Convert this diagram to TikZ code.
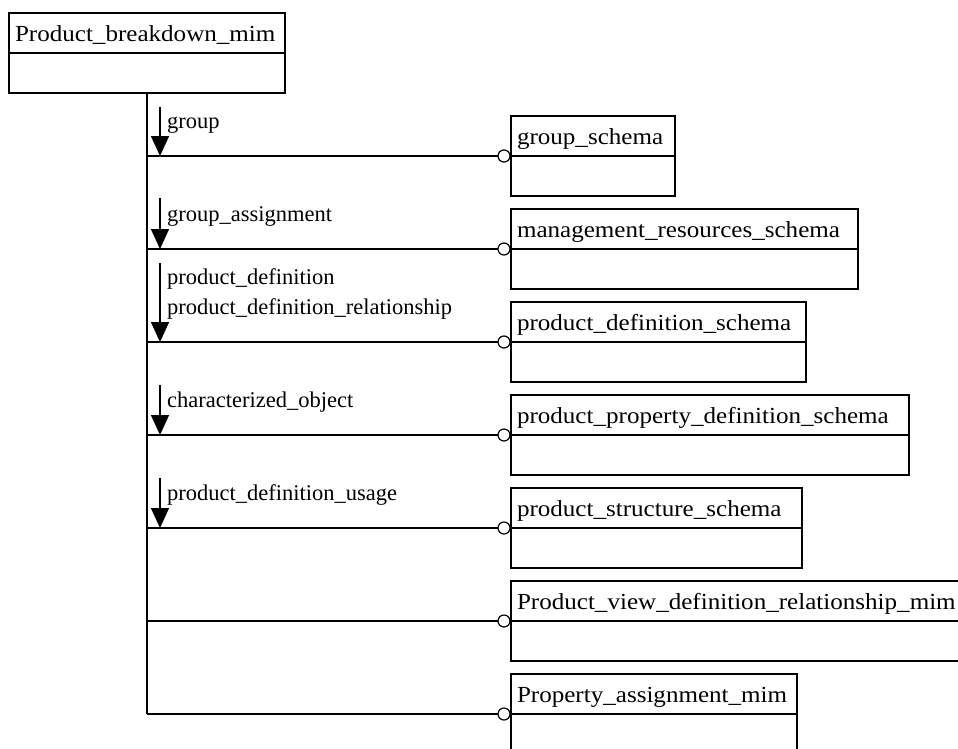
\documentclass[tikz,border=0pt]{standalone}
\usepackage{fontspec}
\setmainfont{Liberation Serif}
\newfontfamily\boxfont[FakeStretch=1.09]{Liberation Serif}
\usetikzlibrary{arrows.meta}
\begin{document}
\begin{tikzpicture}[x=1pt,y=-1pt,
  hdr/.style={draw, line width=1.5pt, anchor=north west, outer sep=0pt,
    inner xsep=6pt, inner ysep=0pt, minimum height=40pt,
    text height=20pt, text depth=4pt, align=left,
    font=\boxfont\fontsize{23}{28}\selectfont},
  bdy/.style={draw, line width=1.5pt, anchor=north west, outer sep=0pt,
    inner sep=0pt, minimum height=40pt},
  circ/.style={draw, circle, line width=1.2pt, fill=white, inner sep=0pt,
    minimum size=12pt, outer sep=0pt},
  lnk/.style={line width=1.5pt},
  arr/.style={line width=1.5pt, -{Triangle[width=18pt,length=20pt]}},
  lbl/.style={anchor=base west, inner sep=0pt, align=left,
    font=\fontsize{22.5}{30}\selectfont}
]
\clip (0,0) rectangle (958,748);
\fill[white] (0,0) rectangle (958,748);

% top box
\node[hdr, text width=264pt] (pb) at (9,13) {Product\_breakdown\_mim};
\node[bdy, minimum width=276pt] (pbb) at (pb.south west) {};

% schema boxes
\node[hdr, text width=152pt] (gs) at (511,116) {group\_schema};
\node[bdy, minimum width=164pt] (gsb) at (gs.south west) {};
\node[hdr, text width=335pt] (mr) at (511,209) {management\_resources\_schema};
\node[bdy, minimum width=347pt] (mrb) at (mr.south west) {};
\node[hdr, text width=283pt] (pd) at (511,302) {product\_definition\_schema};
\node[bdy, minimum width=295pt] (pdb) at (pd.south west) {};
\node[hdr, text width=386pt] (pp) at (511,395) {product\_property\_definition\_schema};
\node[bdy, minimum width=398pt] (ppb) at (pp.south west) {};
\node[hdr, text width=279pt] (ps) at (511,488) {product\_structure\_schema};
\node[bdy, minimum width=291pt] (psb) at (ps.south west) {};
\node[hdr, text width=477pt] (pv) at (511,581) {Product\_view\_definition\_relationship\_mim};
\node[bdy, minimum width=489pt] (pvb) at (pv.south west) {};
\node[hdr, text width=274pt] (pa) at (511,674) {Property\_assignment\_mim};
\node[bdy, minimum width=286pt] (pab) at (pa.south west) {};

% trunk
\coordinate (tend) at (147,714);
\draw[lnk] (pbb.south) -- (tend);

% branches
\foreach \i/\y in {1/156,2/249,3/342,4/435,5/528,6/621,7/714}{
  \coordinate (j\i) at (147,\y);
  \node[circ] (c\i) at (504,\y) {};
  \draw[lnk] (j\i) -- (c\i.west);
}

% arrows
\foreach \i/\s/\y in {1/107/156,2/198/249,3/263/342,4/385/435,5/478/528}{
  \coordinate (as\i) at (160,\s);
  \coordinate (ae\i) at (160,\y);
  \draw[arr] (as\i) -- (ae\i);
}

% labels
\node[lbl] (l1) at (167,128) {group};
\node[lbl] (l2) at (167,221) {group\_assignment};
\node[lbl] (l3) at (167,314) {product\_definition\\product\_definition\_relationship};
\node[lbl] (l4) at (167,407) {characterized\_object};
\node[lbl] (l5) at (167,500) {product\_definition\_usage};
\end{tikzpicture}
\end{document}
